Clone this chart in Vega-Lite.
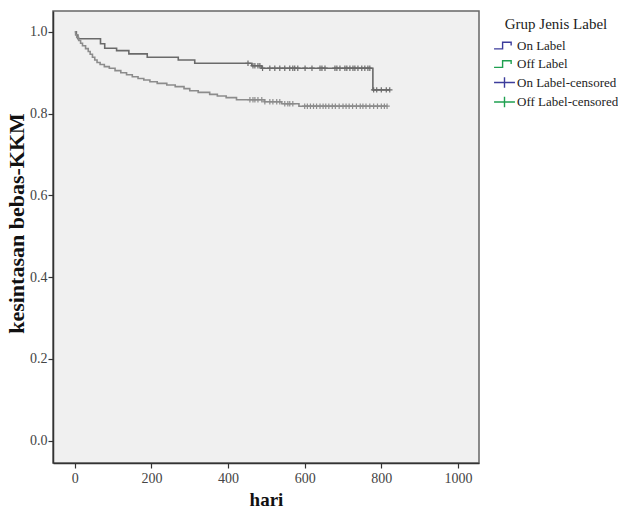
{
  "$schema": "https://vega.github.io/schema/vega-lite/v6.json",
  "width": 426,
  "height": 452,
  "autosize": {"type": "none"},
  "padding": {"left": 53, "top": 11, "right": 139, "bottom": 46},
  "background": "white",
  "datasets": {
    "curves": [
      {"grp": "On Label", "t": 0, "s": 1.0},
      {"grp": "On Label", "t": 4, "s": 0.992},
      {"grp": "On Label", "t": 8, "s": 0.983},
      {"grp": "On Label", "t": 67, "s": 0.971},
      {"grp": "On Label", "t": 78, "s": 0.960},
      {"grp": "On Label", "t": 109, "s": 0.954},
      {"grp": "On Label", "t": 141, "s": 0.946},
      {"grp": "On Label", "t": 189, "s": 0.938},
      {"grp": "On Label", "t": 270, "s": 0.931},
      {"grp": "On Label", "t": 313, "s": 0.923},
      {"grp": "On Label", "t": 462, "s": 0.917},
      {"grp": "On Label", "t": 487, "s": 0.911},
      {"grp": "On Label", "t": 778, "s": 0.858},
      {"grp": "On Label", "t": 822, "s": 0.858},
      {"grp": "Off Label", "t": 0, "s": 1.0},
      {"grp": "Off Label", "t": 2, "s": 0.993},
      {"grp": "Off Label", "t": 5, "s": 0.986},
      {"grp": "Off Label", "t": 10, "s": 0.979},
      {"grp": "Off Label", "t": 15, "s": 0.972},
      {"grp": "Off Label", "t": 20, "s": 0.966},
      {"grp": "Off Label", "t": 28, "s": 0.959},
      {"grp": "Off Label", "t": 35, "s": 0.952},
      {"grp": "Off Label", "t": 40, "s": 0.945},
      {"grp": "Off Label", "t": 46, "s": 0.938},
      {"grp": "Off Label", "t": 52, "s": 0.931},
      {"grp": "Off Label", "t": 58, "s": 0.925},
      {"grp": "Off Label", "t": 66, "s": 0.920},
      {"grp": "Off Label", "t": 77, "s": 0.915},
      {"grp": "Off Label", "t": 90, "s": 0.911},
      {"grp": "Off Label", "t": 105, "s": 0.905},
      {"grp": "Off Label", "t": 120, "s": 0.900},
      {"grp": "Off Label", "t": 135, "s": 0.895},
      {"grp": "Off Label", "t": 150, "s": 0.890},
      {"grp": "Off Label", "t": 165, "s": 0.886},
      {"grp": "Off Label", "t": 180, "s": 0.882},
      {"grp": "Off Label", "t": 196, "s": 0.878},
      {"grp": "Off Label", "t": 215, "s": 0.874},
      {"grp": "Off Label", "t": 240, "s": 0.870},
      {"grp": "Off Label", "t": 262, "s": 0.866},
      {"grp": "Off Label", "t": 285, "s": 0.861},
      {"grp": "Off Label", "t": 300, "s": 0.856},
      {"grp": "Off Label", "t": 322, "s": 0.852},
      {"grp": "Off Label", "t": 352, "s": 0.847},
      {"grp": "Off Label", "t": 372, "s": 0.843},
      {"grp": "Off Label", "t": 395, "s": 0.839},
      {"grp": "Off Label", "t": 422, "s": 0.834},
      {"grp": "Off Label", "t": 495, "s": 0.829},
      {"grp": "Off Label", "t": 540, "s": 0.824},
      {"grp": "Off Label", "t": 585, "s": 0.818},
      {"grp": "Off Label", "t": 815, "s": 0.818}
    ],
    "censored": [
      {"grp": "On Label-censored", "t": 452, "s": 0.923},
      {"grp": "On Label-censored", "t": 465, "s": 0.917},
      {"grp": "On Label-censored", "t": 470, "s": 0.917},
      {"grp": "On Label-censored", "t": 478, "s": 0.917},
      {"grp": "On Label-censored", "t": 483, "s": 0.917},
      {"grp": "On Label-censored", "t": 490, "s": 0.911},
      {"grp": "On Label-censored", "t": 509, "s": 0.911},
      {"grp": "On Label-censored", "t": 522, "s": 0.911},
      {"grp": "On Label-censored", "t": 535, "s": 0.911},
      {"grp": "On Label-censored", "t": 548, "s": 0.911},
      {"grp": "On Label-censored", "t": 561, "s": 0.911},
      {"grp": "On Label-censored", "t": 569, "s": 0.911},
      {"grp": "On Label-censored", "t": 574, "s": 0.911},
      {"grp": "On Label-censored", "t": 582, "s": 0.911},
      {"grp": "On Label-censored", "t": 601, "s": 0.911},
      {"grp": "On Label-censored", "t": 619, "s": 0.911},
      {"grp": "On Label-censored", "t": 640, "s": 0.911},
      {"grp": "On Label-censored", "t": 645, "s": 0.911},
      {"grp": "On Label-censored", "t": 653, "s": 0.911},
      {"grp": "On Label-censored", "t": 679, "s": 0.911},
      {"grp": "On Label-censored", "t": 684, "s": 0.911},
      {"grp": "On Label-censored", "t": 692, "s": 0.911},
      {"grp": "On Label-censored", "t": 705, "s": 0.911},
      {"grp": "On Label-censored", "t": 710, "s": 0.911},
      {"grp": "On Label-censored", "t": 718, "s": 0.911},
      {"grp": "On Label-censored", "t": 726, "s": 0.911},
      {"grp": "On Label-censored", "t": 731, "s": 0.911},
      {"grp": "On Label-censored", "t": 739, "s": 0.911},
      {"grp": "On Label-censored", "t": 749, "s": 0.911},
      {"grp": "On Label-censored", "t": 757, "s": 0.911},
      {"grp": "On Label-censored", "t": 765, "s": 0.911},
      {"grp": "On Label-censored", "t": 770, "s": 0.911},
      {"grp": "On Label-censored", "t": 780, "s": 0.858},
      {"grp": "On Label-censored", "t": 788, "s": 0.858},
      {"grp": "On Label-censored", "t": 800, "s": 0.858},
      {"grp": "On Label-censored", "t": 813, "s": 0.858},
      {"grp": "On Label-censored", "t": 822, "s": 0.858},
      {"grp": "Off Label-censored", "t": 457, "s": 0.834},
      {"grp": "Off Label-censored", "t": 465, "s": 0.834},
      {"grp": "Off Label-censored", "t": 470, "s": 0.834},
      {"grp": "Off Label-censored", "t": 478, "s": 0.834},
      {"grp": "Off Label-censored", "t": 488, "s": 0.834},
      {"grp": "Off Label-censored", "t": 496, "s": 0.829},
      {"grp": "Off Label-censored", "t": 509, "s": 0.829},
      {"grp": "Off Label-censored", "t": 517, "s": 0.829},
      {"grp": "Off Label-censored", "t": 527, "s": 0.829},
      {"grp": "Off Label-censored", "t": 535, "s": 0.829},
      {"grp": "Off Label-censored", "t": 548, "s": 0.824},
      {"grp": "Off Label-censored", "t": 556, "s": 0.824},
      {"grp": "Off Label-censored", "t": 561, "s": 0.824},
      {"grp": "Off Label-censored", "t": 569, "s": 0.824},
      {"grp": "Off Label-censored", "t": 600, "s": 0.818},
      {"grp": "Off Label-censored", "t": 607, "s": 0.818},
      {"grp": "Off Label-censored", "t": 615, "s": 0.818},
      {"grp": "Off Label-censored", "t": 623, "s": 0.818},
      {"grp": "Off Label-censored", "t": 631, "s": 0.818},
      {"grp": "Off Label-censored", "t": 640, "s": 0.818},
      {"grp": "Off Label-censored", "t": 648, "s": 0.818},
      {"grp": "Off Label-censored", "t": 655, "s": 0.818},
      {"grp": "Off Label-censored", "t": 663, "s": 0.818},
      {"grp": "Off Label-censored", "t": 672, "s": 0.818},
      {"grp": "Off Label-censored", "t": 680, "s": 0.818},
      {"grp": "Off Label-censored", "t": 690, "s": 0.818},
      {"grp": "Off Label-censored", "t": 700, "s": 0.818},
      {"grp": "Off Label-censored", "t": 708, "s": 0.818},
      {"grp": "Off Label-censored", "t": 716, "s": 0.818},
      {"grp": "Off Label-censored", "t": 725, "s": 0.818},
      {"grp": "Off Label-censored", "t": 735, "s": 0.818},
      {"grp": "Off Label-censored", "t": 745, "s": 0.818},
      {"grp": "Off Label-censored", "t": 752, "s": 0.818},
      {"grp": "Off Label-censored", "t": 760, "s": 0.818},
      {"grp": "Off Label-censored", "t": 770, "s": 0.818},
      {"grp": "Off Label-censored", "t": 780, "s": 0.818},
      {"grp": "Off Label-censored", "t": 790, "s": 0.818},
      {"grp": "Off Label-censored", "t": 800, "s": 0.818},
      {"grp": "Off Label-censored", "t": 808, "s": 0.818},
      {"grp": "Off Label-censored", "t": 815, "s": 0.818}
    ]
  },
  "encoding": {
    "x": {
      "field": "t", "type": "quantitative",
      "scale": {"domain": [-57, 1055], "nice": false, "zero": false},
      "axis": {"values": [0, 200, 400, 600, 800, 1000], "format": "d", "title": "hari", "titleFontSize": 19, "titlePadding": 5, "labelPadding": 3}
    },
    "y": {
      "field": "s", "type": "quantitative",
      "scale": {"domain": [-0.055, 1.051], "nice": false, "zero": false},
      "axis": {"values": [0, 0.2, 0.4, 0.6, 0.8, 1.0], "format": ".1f", "title": "kesintasan bebas-KKM", "titleFontSize": 22, "titlePadding": 1, "titleY": 212, "labelPadding": 1}
    }
  },
  "layer": [
    {
      "data": {"name": "censored"},
      "mark": {"type": "point", "filled": false, "opacity": 0, "size": 30},
      "encoding": {
        "stroke": {
          "field": "grp", "type": "nominal",
          "scale": {
            "domain": ["On Label", "Off Label", "On Label-censored", "Off Label-censored"],
            "range": ["#3c3c9c", "#1fa050", "#3c3c9c", "#1fa050"]
          },
          "legend": {
            "title": "Grup Jenis Label",
            "orient": "none",
            "legendX": 441,
            "legendY": 6,
            "padding": 0,
            "titleAnchor": "middle",
            "titleFont": "Liberation Serif",
            "titleFontSize": 15,
            "titleFontWeight": "normal",
            "titleColor": "#222",
            "titlePadding": 3,
            "labelFont": "Liberation Serif",
            "labelFontSize": 13,
            "labelColor": "#222",
            "labelOffset": 2,
            "symbolSize": 361,
            "symbolOpacity": 1,
            "symbolStrokeWidth": 1.4,
            "symbolFillColor": "transparent",
            "rowPadding": 0.5
          }
        },
        "shape": {
          "field": "grp", "type": "nominal",
          "scale": {
            "domain": ["On Label", "Off Label", "On Label-censored", "Off Label-censored"],
            "range": ["M-1.1,0.35H-0.2V-0.35H0.7V0V-0.35H-0.2V0.35Z", "M-1.1,0.35H-0.2V-0.35H0.7V0V-0.35H-0.2V0.35Z", "M-1.1,0H1.1M0,-0.55V0.55M0,0H-1.1Z", "M-1.1,0H1.1M0,-0.55V0.55M0,0H-1.1Z"]
          },
          "legend": {
            "title": "Grup Jenis Label",
            "orient": "none",
            "legendX": 441,
            "legendY": 6,
            "padding": 0,
            "titleAnchor": "middle",
            "titleFont": "Liberation Serif",
            "titleFontSize": 15,
            "titleFontWeight": "normal",
            "titleColor": "#222",
            "titlePadding": 3,
            "labelFont": "Liberation Serif",
            "labelFontSize": 13,
            "labelColor": "#222",
            "labelOffset": 2,
            "symbolSize": 361,
            "symbolOpacity": 1,
            "symbolStrokeWidth": 1.4,
            "symbolFillColor": "transparent",
            "rowPadding": 0.5
          }
        }
      }
    },
    {
      "data": {"name": "curves"},
      "mark": {"type": "line", "interpolate": "step-after", "strokeWidth": 1.6},
      "encoding": {
        "color": {
          "field": "grp", "type": "nominal",
          "scale": {
            "domain": ["On Label", "On Label-censored", "Off Label", "Off Label-censored"],
            "range": ["#6a6a6a", "#6a6a6a", "#8c8c8c", "#8c8c8c"]
          },
          "legend": null
        }
      }
    },
    {
      "data": {"name": "censored"},
      "mark": {"type": "point", "shape": "M-1,0H1M0,-1V1", "size": 30, "strokeWidth": 1.2, "filled": false, "opacity": 1},
      "encoding": {
        "color": {
          "field": "grp", "type": "nominal",
          "scale": {
            "domain": ["On Label", "On Label-censored", "Off Label", "Off Label-censored"],
            "range": ["#6a6a6a", "#6a6a6a", "#8c8c8c", "#8c8c8c"]
          },
          "legend": null
        }
      }
    }
  ],
  "config": {
    "view": {"fill": "#f0f0f0", "stroke": "#666", "strokeWidth": 1.5},
    "axis": {
      "grid": false,
      "domainColor": "#333",
      "domainWidth": 1.5,
      "tickColor": "#333",
      "tickSize": 5,
      "tickWidth": 1.2,
      "labelFont": "Liberation Serif",
      "labelFontSize": 14,
      "labelColor": "#444",
      "titleFont": "Liberation Serif",
      "titleFontWeight": "bold",
      "titleColor": "#111"
    }
  }
}
